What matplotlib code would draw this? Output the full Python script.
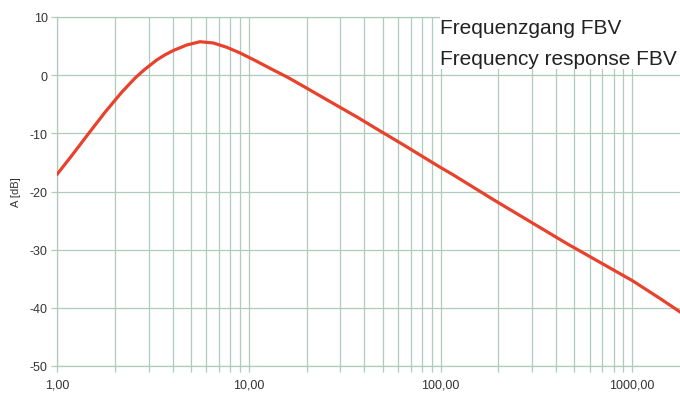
import matplotlib
matplotlib.use('Agg')
import matplotlib.pyplot as plt
from matplotlib.ticker import FixedLocator, LogLocator, FuncFormatter, NullFormatter
from matplotlib.patches import Rectangle

# Frequenzgang FBV
freq = [1.0, 1.189, 1.451, 1.774, 2.168, 2.545, 2.85, 3.30, 3.65, 4.04,
        4.74, 5.56, 6.53, 7.67, 9.0, 10.99, 13.2, 16.0, 19.0, 27.9, 36.9,
        45.7, 64.2, 99.2, 116.0, 191.0, 281.0, 459.0, 1000.0, 1400.0, 1778.0]
gain_db = [-17.0, -13.84, -10.1, -6.38, -2.94, -0.5, 0.95, 2.6, 3.5, 4.25,
           5.19, 5.75, 5.53, 4.79, 3.81, 2.38, 1.0, -0.4, -1.8, -4.96, -7.25,
           -9.1, -12.0, -15.8, -17.1, -21.5, -24.8, -29.0, -35.3, -38.4, -40.7]

x_ticks = [1, 10, 100, 1000]
y_ticks = [-50, -40, -30, -20, -10, 0, 10]

grid_col = '#aecbbb'
text_col = '#333333'

plt.rcParams['font.family'] = ['Liberation Sans', 'DejaVu Sans']

fig = plt.figure(figsize=(6.8, 4.06), dpi=100)
ax = fig.add_axes([57.3 / 680, 1 - 367 / 406, 1 - 57.3 / 680, (367 - 18) / 406])

ax.plot(freq, gain_db, color='#e8412c', lw=2.3, solid_joinstyle='round', zorder=3)

ax.set_xscale('log')
ax.set_xlim(1, 1778)
ax.set_ylim(-50, 10)

ax.xaxis.set_major_locator(FixedLocator(x_ticks))
ax.xaxis.set_minor_locator(LogLocator(base=10, subs=range(2, 10), numticks=20))
ax.xaxis.set_major_formatter(FuncFormatter(lambda v, p: f'{v:.2f}'.replace('.', ',')))
ax.xaxis.set_minor_formatter(NullFormatter())
ax.yaxis.set_major_locator(FixedLocator(y_ticks))
ax.yaxis.set_major_formatter(FuncFormatter(lambda v, p: f'{int(v)}'))

ax.grid(True, which='both', axis='x', color=grid_col, lw=0.9)
ax.grid(True, which='major', axis='y', color=grid_col, lw=0.9)

ax.tick_params(axis='both', which='both', direction='out', color=grid_col,
               width=0.9, labelsize=9, labelcolor=text_col)
ax.tick_params(axis='x', which='both', length=4, pad=5)
ax.tick_params(axis='y', which='major', length=4, pad=3)

for side in ['top', 'left', 'bottom']:
    ax.spines[side].set_color(grid_col)
    ax.spines[side].set_linewidth(0.9)
ax.spines['right'].set_visible(False)

ax.set_ylabel('A [dB]', fontsize=8, color=text_col, labelpad=6)

# white box behind the title text
fig.patches.append(Rectangle((440 / 680, 1 - 70 / 406), 240 / 680, 70 / 406,
                             transform=fig.transFigure, facecolor='white',
                             edgecolor='none', zorder=5))
fig.text(440 / 680, 1 - 33.5 / 406, 'Frequenzgang FBV', fontsize=15,
         color='#222222', ha='left', va='baseline', zorder=6)
fig.text(440 / 680, 1 - 65 / 406, 'Frequency response FBV', fontsize=15,
         color='#222222', ha='left', va='baseline', zorder=6)

fig.savefig('out.png', dpi=100)
